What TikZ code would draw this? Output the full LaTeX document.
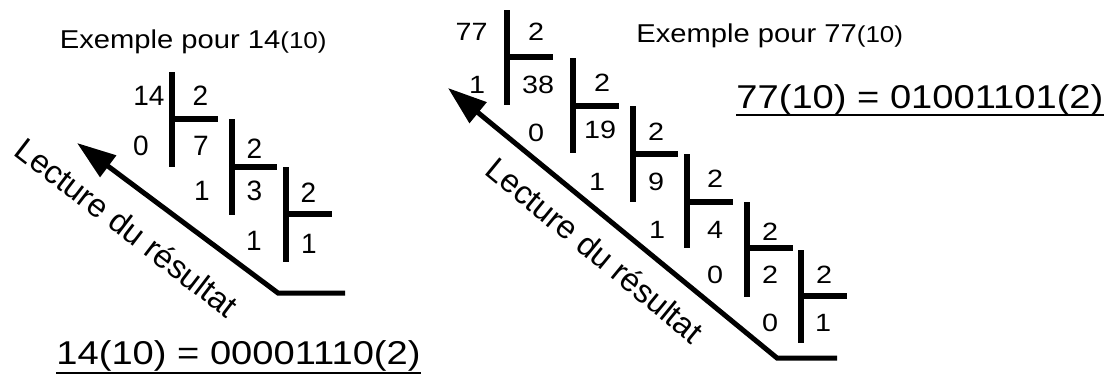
\documentclass[tikz,border=0pt]{standalone}
\usepackage{fontspec}
\setmainfont{Liberation Sans}
\usetikzlibrary{arrows.meta}
\begin{document}
\begin{tikzpicture}[x=0.5pt,y=-0.5pt,
  bar/.style={line width=3pt},
  ldig/.style={font=\fontsize{14pt}{14pt}\selectfont, inner sep=0pt, text height=10pt, text depth=0pt},
  rdig/.style={font=\fontsize{12.5pt}{12.5pt}\selectfont, inner sep=0pt, text height=8.95pt, text depth=0pt, xscale=1.15},
  ttl/.style={font=\fontsize{12.9pt}{13pt}\selectfont, inner sep=0pt, anchor=base west, xscale=1.13},
  fml/.style={font=\fontsize{16.5pt}{17pt}\selectfont, inner sep=0pt, anchor=base west, xscale=1.155},
  lecture/.style={font=\fontsize{16.3pt}{16.3pt}\selectfont, inner sep=0pt},
  readarrow/.style={line width=2.5pt, -{Triangle[length=19.5pt,width=13pt]}},
  uline/.style={line width=1pt}]
\useasboundingbox (0,0) rectangle (1111,376);
\newcommand{\smallten}{{\fontsize{11.5pt}{12pt}\selectfont(10)}}

% ---------- left example: 14 ----------
\node[ttl] (t1) at (59.5,48.5) {Exemple pour 14\smallten};

\draw[bar] (172,72) -- (172,167) (172,119) -- (218,119);
\draw[bar] (232,119) -- (232,215) (232,167) -- (277,167);
\draw[bar] (286,167) -- (286,262) (286,214) -- (332,214);

\node[ldig] (a14) at (149,95) {14};
\node[ldig] (ad1) at (200.5,95) {2};
\node[ldig] (ar1) at (141,145) {0};
\node[ldig] (aq1) at (201,145) {7};
\node[ldig] (ad2) at (254.5,148) {2};
\node[ldig] (ar2) at (202,190) {1};
\node[ldig] (aq2) at (254.5,190) {3};
\node[ldig] (ad3) at (308.5,192) {2};
\node[ldig] (ar3) at (254,240) {1};
\node[ldig] (aq3) at (309,243) {1};

\coordinate (ah) at (345,293);
\coordinate (ac) at (278,293);
\coordinate (at) at (77,143);
\draw[readarrow] (ah) -- (ac) -- (at);
\node[lecture, rotate=-37.5] (al) at (127,227) {Lecture du résultat};

\node[fml] (f1) at (56,364) {14(10) = 00001110(2)};
\draw[uline] ([yshift=-4.5pt]f1.base west) -- ([yshift=-4.5pt]f1.base east);

% ---------- right example: 77 ----------
\node[ttl] (t2) at (636,42) {Exemple pour 77\smallten};

\draw[bar] (507,10) -- (507,105) (507,57) -- (553,57);
\draw[bar] (573,58) -- (573,153) (573,106) -- (619,106);
\draw[bar] (633,106) -- (633,202) (633,154) -- (678,154);
\draw[bar] (687,154) -- (687,248) (687,202) -- (733,202);
\draw[bar] (747,202) -- (747,297) (747,248) -- (793,248);
\draw[bar] (801,250) -- (801,343) (801,296) -- (847,296);

\node[rdig] (b77) at (471.5,32) {77};
\node[rdig] (bd1) at (536,32) {2};
\node[rdig] (br1) at (477,85) {1};
\node[rdig] (bq1) at (538,85) {38};
\node[rdig] (bd2) at (602,83) {2};
\node[rdig] (br2) at (536,133) {0};
\node[rdig] (bq2) at (600,130) {19};
\node[rdig] (bd3) at (656,132) {2};
\node[rdig] (br3) at (597,182) {1};
\node[rdig] (bq3) at (656,182) {9};
\node[rdig] (bd4) at (715,179) {2};
\node[rdig] (br4) at (657,230) {1};
\node[rdig] (bq4) at (715,230) {4};
\node[rdig] (bd5) at (770,232) {2};
\node[rdig] (br5) at (715,275) {0};
\node[rdig] (bq5) at (770,275) {2};
\node[rdig] (bd6) at (824,275) {2};
\node[rdig] (br6) at (770,323) {0};
\node[rdig] (bq6) at (823,323) {1};

\coordinate (bh) at (837,358);
\coordinate (bc) at (777,358);
\coordinate (bt) at (448,88);
\draw[readarrow] (bh) -- (bc) -- (bt);
\node[lecture, rotate=-39.4] (bl) at (595,250) {Lecture du résultat};

\node[fml] (f2) at (736,108) {77(10) = 01001101(2)};
\draw[uline] ([yshift=-3.5pt]f2.base west) -- ([yshift=-3.5pt]f2.base east);
\end{tikzpicture}
\end{document}
